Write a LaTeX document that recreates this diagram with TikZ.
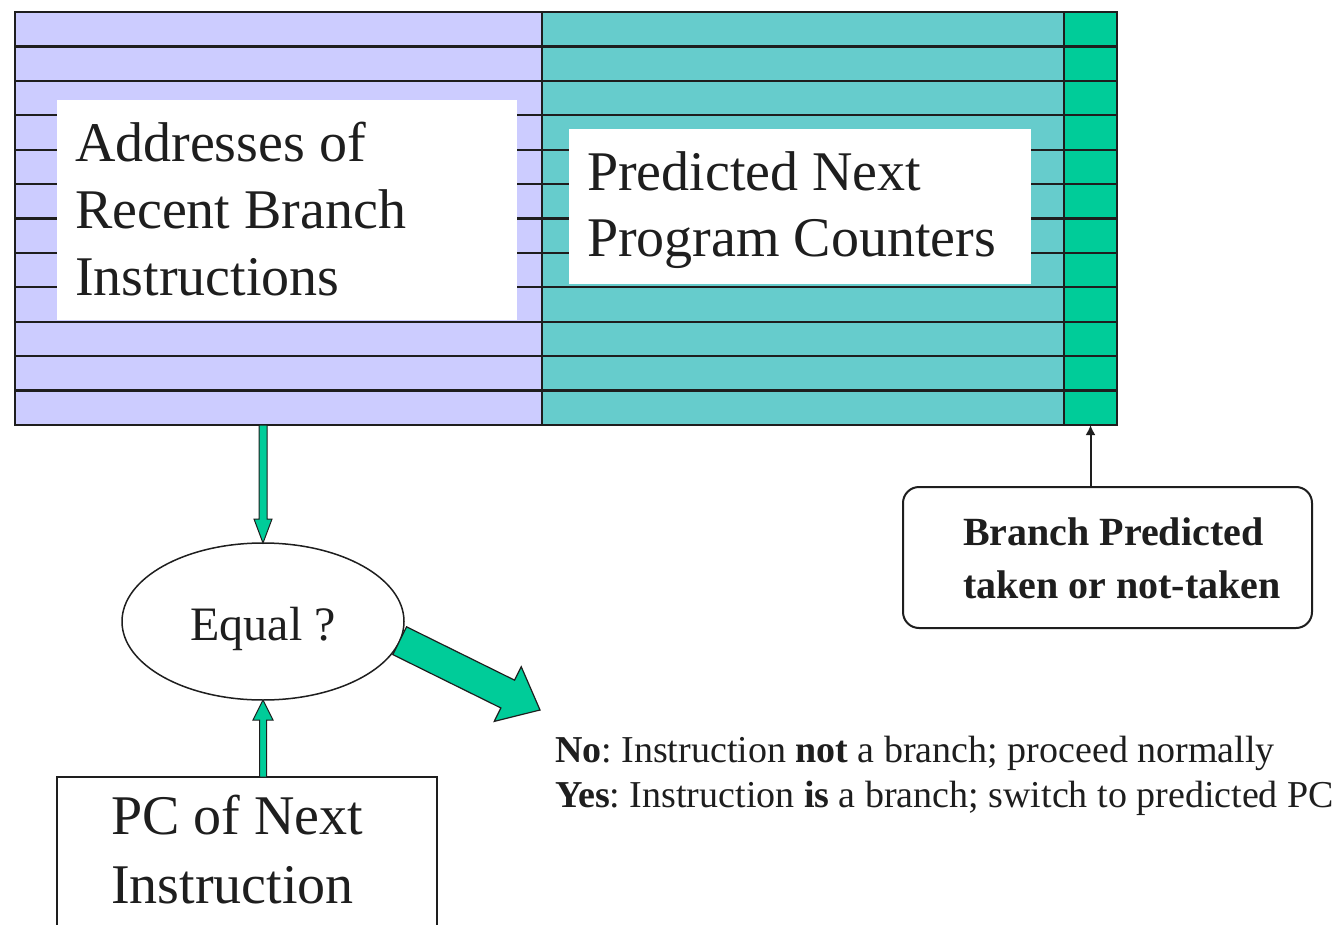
\documentclass[tikz,border=0pt]{standalone}
\usepackage{fontspec}
\setmainfont{Liberation Serif}
\frenchspacing
\usetikzlibrary{calc,arrows.meta,shapes.geometric}
\definecolor{lav}{HTML}{CCCCFF}
\definecolor{tealc}{HTML}{66CCCC}
\definecolor{grn}{HTML}{00CC99}
\definecolor{ink}{HTML}{1E1E1E}
\tikzset{
  blockarrow/.style n args={3}{to path={
    let \p1=(\tikztostart), \p2=(\tikztotarget),
        \n1={atan2(\y2-\y1,\x2-\x1)}, \n2={veclen(\x2-\x1,\y2-\y1)-#3} in
    ($(\p1)+(\n1+90:#1)$) -- ($(\p1)+(\n1:\n2)+(\n1+90:#1)$)
    -- ($(\p1)+(\n1:\n2)+(\n1+90:#2)$) -- (\p2)
    -- ($(\p1)+(\n1:\n2)+(\n1-90:#2)$) -- ($(\p1)+(\n1:\n2)+(\n1-90:#1)$)
    -- ($(\p1)+(\n1-90:#1)$) -- cycle}},
  cell/.style={rectangle, anchor=north west, inner sep=0pt, outer sep=0pt, minimum height=413pt},
  whitebox/.style={rectangle, fill=white, anchor=north west, inner sep=0pt, outer sep=0pt},
  rowline/.style={ink, line width=2.2pt},
  colline/.style={ink, line width=1.6pt},
  txt/.style={anchor=base west, inner sep=0pt, outer sep=0pt, text=ink},
  smallarrow/.style={fill=grn, draw=ink, line width=1pt, line join=miter},
  bigarrow/.style={fill=grn, draw=ink, line width=1.2pt, line join=miter},
  plainbox/.style={rectangle, draw=ink, line width=2pt, inner sep=0pt, outer sep=0pt},
}
\begin{document}
\begin{tikzpicture}[x=1pt,y=1pt]
\useasboundingbox (0,0) rectangle (1343,-925);
\clip (0,0) rectangle (1343,-925);
\fill[white] (0,0) rectangle (1343,-925);
% table columns
\node[cell, fill=lav, minimum width=527pt] (addr) at (15,-12) {};
\node[cell, fill=tealc, minimum width=522pt] (pred) at (542,-12) {};
\node[cell, fill=grn, minimum width=53pt] (bit) at (1064,-12) {};
% row lines
\foreach \k in {1,...,11}
  \draw[rowline] ($(addr.north west)!\k/12!(addr.south west)$) -- ($(bit.north east)!\k/12!(bit.south east)$);
% white label boxes
\node[whitebox, minimum width=460pt, minimum height=220pt] (wl) at (57,-100) {};
\node[whitebox, minimum width=462pt, minimum height=155pt] (wr) at (569,-129) {};
% column separators and border
\draw[colline] (addr.north east) -- (addr.south east);
\draw[colline] (bit.north west) -- (bit.south west);
\draw[ink, line width=2pt] (addr.north west) rectangle (bit.south east);
% table texts
\node[txt] (tl) at (75,-162) {\fontsize{56}{67}\selectfont\begin{tabular}[t]{@{}l@{}}Addresses of\\Recent Branch\\Instructions\end{tabular}};
\node[txt] (tr) at (587,-191) {\fontsize{56}{66}\selectfont\begin{tabular}[t]{@{}l@{}}Predicted Next\\Program Counters\end{tabular}};
% comparator
\node[ellipse, draw=ink, line width=1.5pt, minimum width=282pt, minimum height=157pt, inner sep=0pt, outer sep=0pt,
      text height=40pt, text depth=3pt, text=ink, font=\fontsize{48}{56}\selectfont] (eq) at (263,-621.5) {Equal ?};
% PC box
\node[plainbox, anchor=north west, minimum width=380pt, minimum height=190pt] (pc) at (57,-777) {};
\node[txt] (pct) at (111,-834) {\fontsize{56}{69}\selectfont\begin{tabular}[t]{@{}l@{}}PC of Next\\Instruction\end{tabular}};
% branch predicted box
\node[plainbox, rounded corners=16pt, minimum width=409pt, minimum height=141pt] (br) at (1107.5,-557.5) {};
\node[txt] (brt) at (963,-545) {\fontsize{40}{53}\selectfont\bfseries\begin{tabular}[t]{@{}l@{}}Branch Predicted\\taken or not-taken\end{tabular}};
% result text
\node[txt] (res) at (555,-762) {\fontsize{38}{45}\selectfont\begin{tabular}[t]{@{}l@{}}\textbf{No}: Instruction \textbf{not} a branch; proceed normally\\\textbf{Yes}: Instruction \textbf{is} a branch; switch to predicted PC\end{tabular}};
% connectors
\draw[smallarrow] (eq.north |- addr.south) to[blockarrow={4}{9}{24}] (eq.north);
\draw[smallarrow] (eq.south |- pc.north) to[blockarrow={3.5}{10}{20}] (eq.south);
\coordinate (tip) at (540,-710);
\draw[bigarrow] (eq.-8) to[blockarrow={15.5}{30.5}{36}] (tip);
\draw[ink, line width=2pt, -{Latex[length=10pt,width=10pt]}] (bit.south |- br.north) -- (bit.south);
\end{tikzpicture}
\end{document}
